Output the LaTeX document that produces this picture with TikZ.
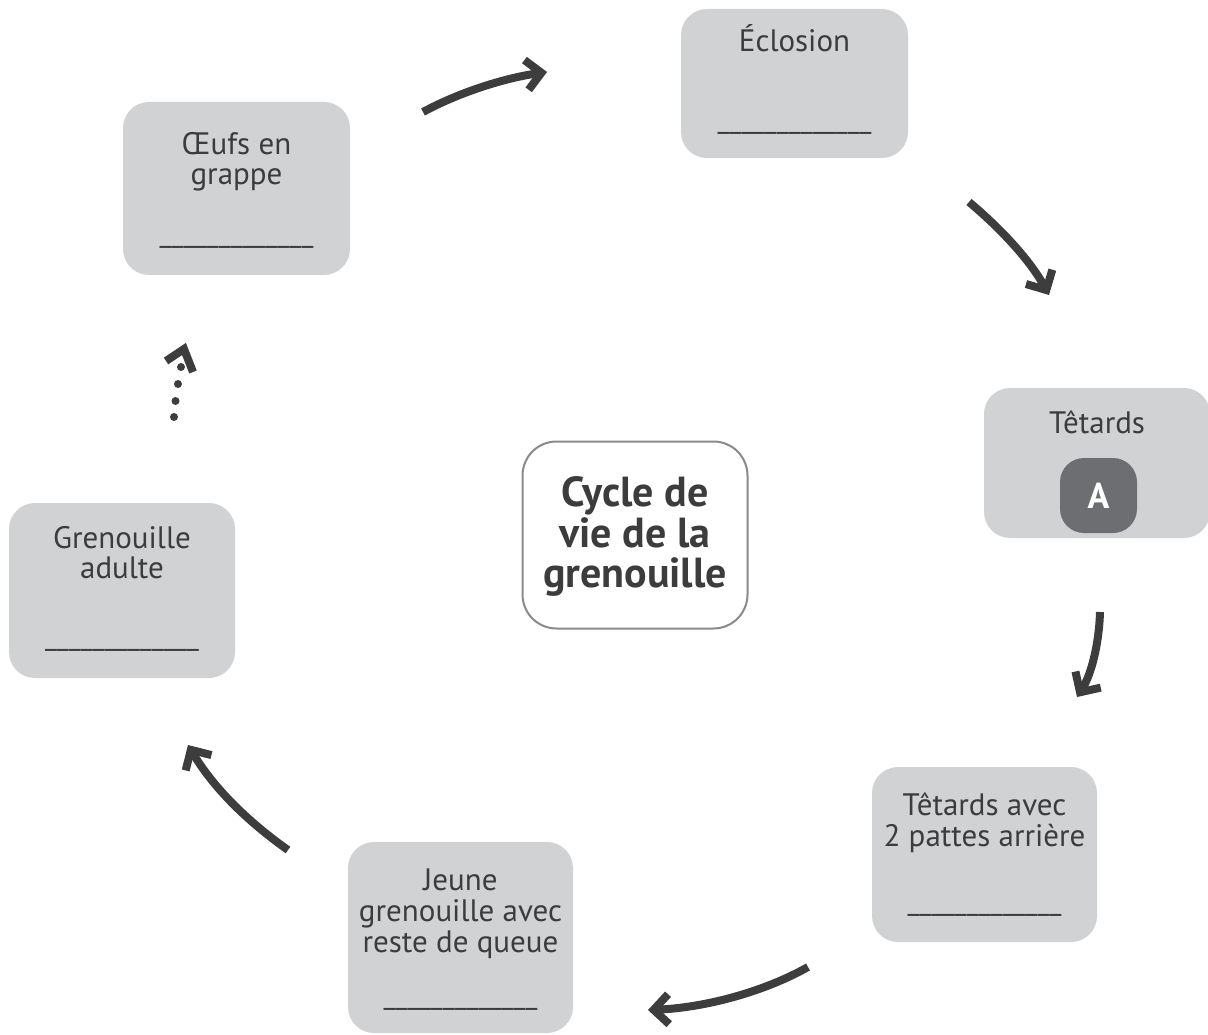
\documentclass[tikz,border=0pt]{standalone}
\usepackage{fontspec}
\setmainfont{PT Sans}
\usetikzlibrary{arrows.meta}
\definecolor{boxgray}{HTML}{D1D2D4}
\definecolor{txt}{HTML}{3C3C3C}
\definecolor{arr}{HTML}{3D3D3D}
\definecolor{darkA}{HTML}{6D6E71}
\definecolor{framegray}{HTML}{8A8A8A}
\begin{document}
\begin{tikzpicture}[x=1pt,y=-1pt,
  stage/.style={fill=boxgray, rounded corners=26pt, inner sep=0pt, draw=none},
  lbl/.style={text=txt, inner sep=0pt, anchor=base, font=\fontsize{31}{31}\selectfont},
  blank/.style={text=txt, inner sep=0pt, anchor=base, font=\fontsize{29}{31}\selectfont},
  ttl/.style={text=txt, inner sep=0pt, anchor=base, font=\fontsize{42}{41}\selectfont\bfseries},
  flow/.style={draw=arr, line width=8pt, -{Straight Barb[length=15pt,width=30pt]}}
]
\useasboundingbox (0,0) rectangle (1208,1035);

% boxes
\node[stage, minimum width=227pt, minimum height=173pt] (eggs) at (236.5,188.5) {};
\node[stage, minimum width=227pt, minimum height=149pt] (hatch) at (794.5,83.5) {};
\node[stage, minimum width=226pt, minimum height=150pt] (tad) at (1097,463) {};
\node[stage, minimum width=226pt, minimum height=175pt] (adult) at (122,590.5) {};
\node[stage, minimum width=225pt, minimum height=175pt] (legs) at (984.5,854.5) {};
\node[stage, minimum width=225pt, minimum height=191pt] (young) at (460.5,937.5) {};
\node[draw=framegray, line width=2pt, fill=white, rounded corners=34pt, inner sep=0pt,
      minimum width=225pt, minimum height=187pt] (center) at (635,535) {};
\node[fill=darkA, rounded corners=24pt, inner sep=0pt, minimum width=77pt, minimum height=75pt] (abox) at (1098.5,495.5) {};

% texts
\node[lbl] (eggs1) at (236.5,155) {Œufs en};
\node[lbl] (eggs2) at (236.5,185) {grappe};
\node[blank] (eggs3) at (236.5,243) {\_\_\_\_\_\_\_\_\_\_\_\_\_};

\node[lbl] (hatch1) at (794.5,52) {Éclosion};
\node[blank] (hatch3) at (794.5,129) {\_\_\_\_\_\_\_\_\_\_\_\_\_};

\node[lbl] (tad1) at (1097,433) {Têtards};
\node[text=white, inner sep=0pt, font=\fontsize{36}{40}\selectfont\bfseries] (aletter) at (abox.center) {A};

\node[lbl] (adult1) at (122,548) {Grenouille};
\node[lbl] (adult2) at (122,578) {adulte};
\node[blank] (adult3) at (122,645) {\_\_\_\_\_\_\_\_\_\_\_\_\_};

\node[lbl] (legs1) at (984.5,815) {Têtards avec};
\node[lbl] (legs2) at (984.5,846) {2 pattes arrière};
\node[blank] (legs3) at (984.5,910) {\_\_\_\_\_\_\_\_\_\_\_\_\_};

\node[lbl] (young1) at (460.5,890) {Jeune};
\node[lbl] (young2) at (460.5,921) {grenouille avec};
\node[lbl] (young3) at (460.5,952) {reste de queue};
\node[blank] (young4) at (460.5,1004) {\_\_\_\_\_\_\_\_\_\_\_\_\_};

\node[ttl] (title1) at (635,506) {Cycle de};
\node[ttl] (title2) at (635,547) {vie de la};
\node[ttl] (title3) at (635,587) {grenouille};

% arrow end points
\coordinate (a1s) at (423,112); \coordinate (a1e) at (547,72);
\coordinate (a2s) at (969,202); \coordinate (a2e) at (1049,295);
\coordinate (a3s) at (1100,612); \coordinate (a3e) at (1077,697);
\coordinate (a4s) at (808,967); \coordinate (a4e) at (648,1010);
\coordinate (a5s) at (288,850); \coordinate (a5e) at (188,745);

\draw[flow] (a1s) .. controls (460,92) and (505,78) .. (a1e);
\draw[flow] (a2s) .. controls (1000,228) and (1030,260) .. (a2e);
\draw[flow] (a3s) .. controls (1099,645) and (1091,675) .. (a3e);
\draw[flow] (a4s) .. controls (760,994) and (700,1008) .. (a4e);
\draw[flow] (a5s) .. controls (240,816) and (210,782) .. (a5e);

% dotted arrow
\coordinate (d1) at (174,417);
\coordinate (d2) at (175.5,401);
\coordinate (d3) at (178,384);
\coordinate (d4) at (181,367);
\coordinate (dl) at (166,361);
\coordinate (dtip) at (184,349);
\coordinate (dr) at (193,372);
\foreach \p in {d1,d2,d3,d4} \fill[arr] (\p) circle (4pt);
\draw[arr, line width=8pt, miter limit=10] (dl) -- (dtip) -- (dr);
\end{tikzpicture}
\end{document}
